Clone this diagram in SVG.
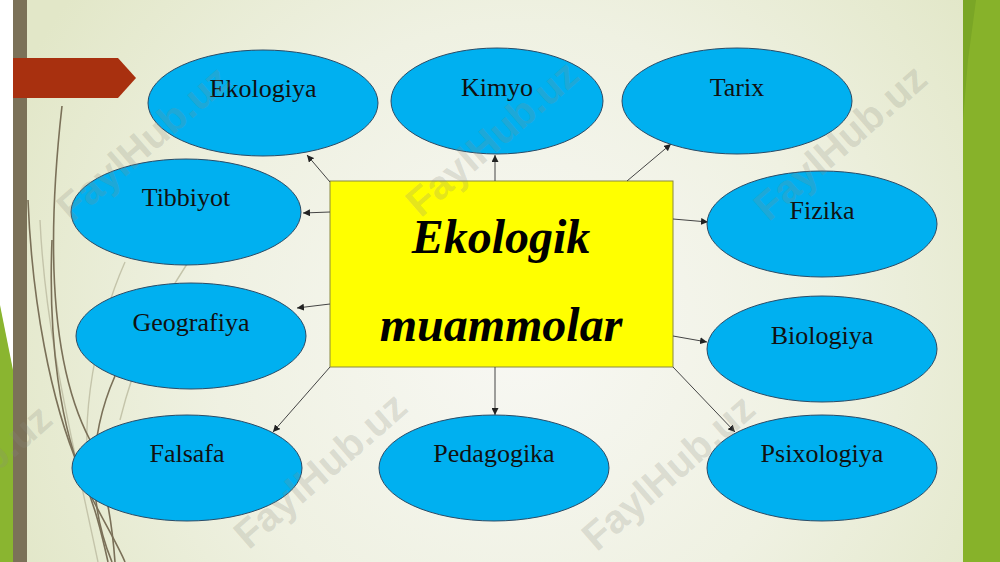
<svg xmlns="http://www.w3.org/2000/svg" width="1000" height="562" viewBox="0 0 1000 562">
<defs>
<radialGradient id="bg" cx="520" cy="330" r="560" gradientUnits="userSpaceOnUse">
<stop offset="0" stop-color="#f8f8f4"/>
<stop offset="0.55" stop-color="#eff1e2"/>
<stop offset="1" stop-color="#e2e7c8"/>
</radialGradient>
<marker id="ah" viewBox="0 0 10 10" refX="10" refY="5" markerWidth="7" markerHeight="7" orient="auto" markerUnits="userSpaceOnUse">
<path d="M0,0 L10,5 L0,10 z" fill="#222"/>
</marker>
<style>
.node ellipse{fill:#00b0f0;stroke:#2b4b66;stroke-width:1}
.node text{font-family:"Liberation Serif","Times New Roman",serif;font-size:26px;fill:#111;text-anchor:middle}
.conn line{stroke:#444;stroke-width:1;marker-end:url(#ah)}
.deco{fill:none;stroke:#7a7058;stroke-width:1.6}
.decol{fill:none;stroke:#c4c4aa;stroke-width:1.4}
.wm{font-family:"Liberation Sans",Arial,sans-serif;font-weight:bold;font-size:40px;fill:#8c8c80;fill-opacity:0.24;text-anchor:middle}
</style>
</defs>
<rect x="0" y="0" width="1000" height="562" fill="url(#bg)"/>
<rect x="0" y="0" width="13" height="562" fill="#ffffff"/>
<polygon points="0,305 13,370 13,562 0,562" fill="#8ab530"/>
<rect x="13" y="0" width="14" height="562" fill="#7b7158"/>
<g id="decor-lines">
<path class="decol" d="M40,220 C45,330 70,430 98,562"/>
<path class="decol" d="M125,262 C95,330 80,420 90,480"/>
<path class="decol" d="M187,264 C150,320 130,380 120,420"/>
<path class="deco" d="M62,106 C48,230 48,360 90,440 C105,480 112,520 115,562"/>
<path class="deco" d="M28,200 C32,300 50,400 80,470 C95,505 102,535 108,562"/>
<path class="deco" d="M52,240 C48,340 60,430 88,490 C100,515 118,545 125,562"/>
<path class="deco" d="M115,376 C100,410 92,450 95,490 C97,520 105,545 112,562"/>
</g>
<polygon points="13,58 118,58 136,78 118,98 13,98" fill="#a8300f"/>
<rect x="963" y="0" width="37" height="562" fill="#87b22a"/>
<polygon points="963,0 976,0 968,60 963,120" fill="#7aa626"/>
<rect x="330" y="181" width="343" height="186" fill="#ffff00" stroke="#8a8a40" stroke-width="1"/>
<g id="center" font-family="'Liberation Serif','Times New Roman',serif" font-size="48" font-weight="bold" font-style="italic" fill="#000" text-anchor="middle">
<text x="501" y="253">Ekologik</text>
<text x="501" y="341">muammolar</text>
</g>
<g id="connectors" class="conn">
<line x1="330" y1="182" x2="307" y2="155"/>
<line x1="495" y1="181" x2="495" y2="155"/>
<line x1="627" y1="181" x2="671" y2="144"/>
<line x1="330" y1="212" x2="303" y2="213"/>
<line x1="673" y1="219" x2="708" y2="222"/>
<line x1="330" y1="304" x2="297" y2="308"/>
<line x1="673" y1="336" x2="707" y2="342"/>
<line x1="330" y1="367" x2="273" y2="432"/>
<line x1="495" y1="367" x2="495" y2="415"/>
<line x1="673" y1="367" x2="735" y2="432"/>
</g>
<g id="n-ekologiya" class="node"><ellipse cx="263" cy="103" rx="115" ry="53"/><text x="263" y="97">Ekologiya</text></g>
<g id="n-kimyo" class="node"><ellipse cx="497" cy="101" rx="106" ry="53"/><text x="497" y="96">Kimyo</text></g>
<g id="n-tarix" class="node"><ellipse cx="737" cy="101" rx="115" ry="53"/><text x="737" y="96">Tarix</text></g>
<g id="n-tibbiyot" class="node"><ellipse cx="186" cy="212" rx="115" ry="53"/><text x="186" y="206">Tibbiyot</text></g>
<g id="n-fizika" class="node"><ellipse cx="822" cy="224" rx="115" ry="53"/><text x="822" y="219">Fizika</text></g>
<g id="n-geografiya" class="node"><ellipse cx="191" cy="336" rx="115" ry="53"/><text x="191" y="331">Geografiya</text></g>
<g id="n-biologiya" class="node"><ellipse cx="822" cy="349" rx="115" ry="53"/><text x="822" y="344">Biologiya</text></g>
<g id="n-falsafa" class="node"><ellipse cx="187" cy="468" rx="115" ry="53"/><text x="187" y="462">Falsafa</text></g>
<g id="n-pedagogika" class="node"><ellipse cx="494" cy="468" rx="115" ry="53"/><text x="494" y="462">Pedagogika</text></g>
<g id="n-psixologiya" class="node"><ellipse cx="822" cy="468" rx="115" ry="53"/><text x="822" y="462">Psixologiya</text></g>
<g id="watermarks">
<text class="wm" transform="translate(143,143) rotate(-41)" y="14">FaylHub.uz</text>
<text class="wm" transform="translate(492,138) rotate(-41)" y="14">FaylHub.uz</text>
<text class="wm" transform="translate(840,142) rotate(-41)" y="14">FaylHub.uz</text>
<text class="wm" transform="translate(-35,482) rotate(-41)" y="14">FaylHub.uz</text>
<text class="wm" transform="translate(320,470) rotate(-41)" y="14">FaylHub.uz</text>
<text class="wm" transform="translate(668,472) rotate(-41)" y="14">FaylHub.uz</text>
</g>
</svg>
